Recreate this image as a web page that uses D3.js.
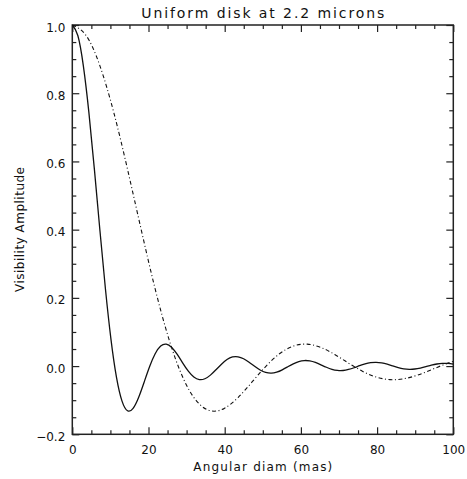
<!DOCTYPE html>
<html>
<head>
<meta charset="utf-8">
<script src="https://cdn.jsdelivr.net/npm/d3@7"></script>
<style>
  html, body { margin: 0; padding: 0; background: #fff; }
  svg { display: block; }
  text { font-family: 'DejaVu Sans', 'Liberation Sans', sans-serif; fill: #111; }
</style>
</head>
<body>
<div id="chart"></div>
<script>
(function () {
  'use strict';

  // Solid curve: visibility vs angular diameter (mas)
  const solidDiam = [0, 1.45, 2.9, 4.35, 5.8, 7.25, 8.7, 10.15, 11.6, 13.05,
    14.5, 15.95, 17.4, 18.85, 20.3, 21.75, 23.2, 24.65, 26.1, 27.55,
    29, 30.45, 31.9, 33.35, 34.8, 36.25, 37.7, 39.15, 40.6, 42.05,
    43.5, 44.95, 46.4, 47.85, 49.3, 50.75, 52.2, 53.65, 55.1, 56.55,
    58, 59.45, 60.9, 62.35, 63.8, 65.25, 66.7, 68.15, 69.6, 71.05,
    72.5, 73.95, 75.4, 76.85, 78.3, 79.75, 81.2, 82.65, 84.1, 85.55,
    87, 88.45, 89.9, 91.35, 92.8, 94.25, 95.7, 97.15, 98.6, 100.05];
  const solidVis = [1.0, 0.9692, 0.8802, 0.7439, 0.5767, 0.3977, 0.2261, 0.0785, -0.0330, -0.1027,
    -0.1310, -0.1241, -0.0922, -0.0473, -0.0013, 0.0361, 0.0587, 0.0643, 0.0545, 0.0340,
    0.0087, -0.0150, -0.0321, -0.0397, -0.0372, -0.0265, -0.0108, 0.0056, 0.0191, 0.0267,
    0.0273, 0.0216, 0.0113, -0.0007, -0.0115, -0.0187, -0.0209, -0.0180, -0.0111, -0.0021,
    0.0067, 0.0133, 0.0163, 0.0152, 0.0106, 0.0038, -0.0034, -0.0094, -0.0128, -0.0130,
    -0.0100, -0.0049, 0.0012, 0.0066, 0.0101, 0.0111, 0.0093, 0.0055, 0.0005, -0.0044,
    -0.0079, -0.0094, -0.0086, -0.0057, -0.0017, 0.0026, 0.0061, 0.0080, 0.0078, 0.0058];

  // Dash-dot curve
  const dashDiam = [0, 3.63, 7.25, 10.88, 14.5, 18.13, 21.75, 25.38, 29, 32.63,
    36.25, 39.88, 43.5, 47.13, 50.75, 54.38, 58, 61.63, 65.25, 68.88,
    72.5, 76.13, 79.75, 83.38, 87, 90.63, 94.25, 97.88, 101.5];
  const dashVis = [1.0, 0.9692, 0.8802, 0.7439, 0.5767, 0.3977, 0.2261, 0.0785, -0.0330, -0.1027,
    -0.1310, -0.1241, -0.0922, -0.0473, -0.0013, 0.0361, 0.0587, 0.0643, 0.0545, 0.0340,
    0.0087, -0.0150, -0.0321, -0.0397, -0.0372, -0.0265, -0.0108, 0.0056, 0.0191];

  const xTicks = [0, 20, 40, 60, 80, 100];
  const xTickLabels = ['0', '20', '40', '60', '80', '100'];
  const yTicks = [-0.2, 0.0, 0.2, 0.4, 0.6, 0.8, 1.0];
  const yTickLabels = ['\u22120.2', '0.0', '0.2', '0.4', '0.6', '0.8', '1.0'];

  const TITLE = 'Uniform disk at 2.2 microns';
  const XLABEL = 'Angular diam (mas)';
  const YLABEL = 'Visibility Amplitude';

  const W = 467, H = 479;
  const margin = { top: 25, right: 13.7, bottom: 44.7, left: 72.3 };
  const innerW = W - margin.left - margin.right;
  const innerH = H - margin.top - margin.bottom;

  const svg = d3.select('#chart').append('svg').attr('width', W).attr('height', H);
  const g = svg.append('g').attr('transform', `translate(${margin.left},${margin.top})`);

  const x = d3.scaleLinear().domain([0, 100]).range([0, innerW]);
  const y = d3.scaleLinear().domain([-0.2, 1.0]).range([innerH, 0]);

  const xMinor = d3.range(0, 101, 5).filter(v => v % 20 !== 0);
  const yMinor = d3.range(-4, 21).map(i => i * 0.05).filter(v => Math.abs(Math.round(v * 5) - v * 5) > 1e-6);

  const AX = '#222';
  function styleAxis(sel) {
    sel.select('.domain').remove();
    sel.selectAll('line').attr('stroke', AX).attr('stroke-width', 1.2);
    sel.selectAll('text').style('font-size', '12px').style('fill', '#111')
      .style('font-family', "'DejaVu Sans', 'Liberation Sans', sans-serif");
  }

  // bottom
  g.append('g').attr('transform', `translate(0,${innerH})`)
    .call(d3.axisBottom(x).tickValues(xTicks).tickFormat((d, i) => xTickLabels[i])
      .tickSizeInner(-7).tickSizeOuter(0).tickPadding(11))
    .call(styleAxis);
  g.append('g').attr('transform', `translate(0,${innerH})`)
    .call(d3.axisBottom(x).tickValues(xMinor).tickFormat('').tickSizeInner(-4).tickSizeOuter(0))
    .call(styleAxis);
  // top
  g.append('g')
    .call(d3.axisTop(x).tickValues(xTicks).tickFormat('').tickSizeInner(-7).tickSizeOuter(0))
    .call(styleAxis);
  g.append('g')
    .call(d3.axisTop(x).tickValues(xMinor).tickFormat('').tickSizeInner(-4).tickSizeOuter(0))
    .call(styleAxis);
  // left
  const yl = g.append('g')
    .call(d3.axisLeft(y).tickValues(yTicks).tickFormat((d, i) => yTickLabels[i])
      .tickSizeInner(-7).tickSizeOuter(0).tickPadding(7))
    .call(styleAxis);
  yl.selectAll('text').attr('dy', '0.5em');
  g.append('g')
    .call(d3.axisLeft(y).tickValues(yMinor).tickFormat('').tickSizeInner(-4).tickSizeOuter(0))
    .call(styleAxis);
  // right
  g.append('g').attr('transform', `translate(${innerW},0)`)
    .call(d3.axisRight(y).tickValues(yTicks).tickFormat('').tickSizeInner(-7).tickSizeOuter(0))
    .call(styleAxis);
  g.append('g').attr('transform', `translate(${innerW},0)`)
    .call(d3.axisRight(y).tickValues(yMinor).tickFormat('').tickSizeInner(-4).tickSizeOuter(0))
    .call(styleAxis);

  // frame
  g.append('rect').attr('x', 0).attr('y', 0).attr('width', innerW).attr('height', innerH)
    .attr('fill', 'none').attr('stroke', AX).attr('stroke-width', 1.5);

  // curves
  svg.append('defs').append('clipPath').attr('id', 'plotclip')
    .append('rect').attr('x', 0).attr('y', -2).attr('width', innerW).attr('height', innerH + 4);

  const line = d3.line().x(d => x(d[0])).y(d => y(d[1])).curve(d3.curveNatural);
  const curves = g.append('g').attr('clip-path', 'url(#plotclip)');

  curves.append('path')
    .datum(dashDiam.map((d, i) => [d, dashVis[i]]))
    .attr('fill', 'none').attr('stroke', '#111').attr('stroke-width', 1.1)
    .attr('stroke-dasharray', '4,2.5,1,2.5')
    .attr('d', line);

  curves.append('path')
    .datum(solidDiam.map((d, i) => [d, solidVis[i]]))
    .attr('fill', 'none').attr('stroke', '#111').attr('stroke-width', 1.3)
    .attr('d', line);

  // title and axis labels
  svg.append('text').attr('x', margin.left + innerW / 2).attr('y', 17.5)
    .attr('text-anchor', 'middle').style('font-size', '14px')
    .attr('textLength', 243).attr('lengthAdjust', 'spacing')
    .text(TITLE);

  svg.append('text').attr('x', margin.left + innerW / 2).attr('y', 471)
    .attr('text-anchor', 'middle').style('font-size', '12px')
    .attr('textLength', 139).attr('lengthAdjust', 'spacing')
    .text(XLABEL);

  svg.append('text')
    .attr('transform', 'translate(24,229.5) rotate(-90)')
    .attr('text-anchor', 'middle').style('font-size', '12px')
    .attr('textLength', 125).attr('lengthAdjust', 'spacing')
    .text(YLABEL);
})();
</script>
</body>
</html>
